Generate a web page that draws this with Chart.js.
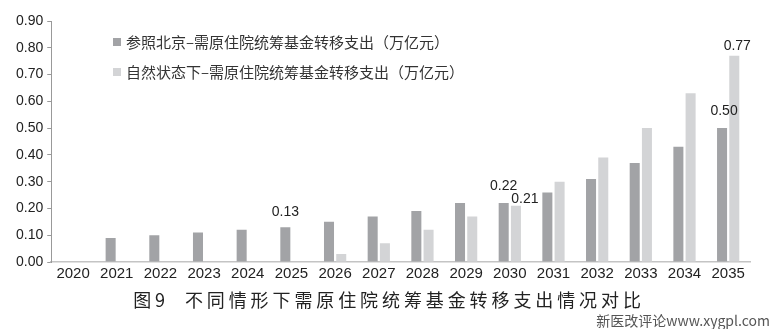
<!DOCTYPE html>
<html>
<head>
<meta charset="utf-8">
<script src="https://cdn.jsdelivr.net/npm/chart.js@4.4.0/dist/chart.umd.min.js"></script>
<style>
    body { margin: 0; background: #fff; }
    #wrap { position: relative; width: 771px; height: 329px; }
    #mark {
        position: absolute; right: 1px; bottom: -1px;
        font: 14px "Noto Sans CJK SC", sans-serif; color: #555;
    }
</style>
</head>
<body>
<div id="wrap">
    <canvas id="fundChart" width="771" height="329"></canvas>
    <div id="mark">新医改评论www.xygpl.com</div>
</div>
<script>
const years = ['2020', '2021', '2022', '2023', '2024', '2025', '2026', '2027',
    '2028', '2029', '2030', '2031', '2032', '2033', '2034', '2035'];
const beijingRef = [0, 0.09, 0.10, 0.11, 0.12, 0.13, 0.15, 0.17,
    0.19, 0.22, 0.22, 0.26, 0.31, 0.37, 0.43, 0.50];
const naturalState = [0, 0, 0, 0, 0, 0, 0.03, 0.07,
    0.12, 0.17, 0.21, 0.30, 0.39, 0.50, 0.63, 0.77];
const yTicks = [0, 0.1, 0.2, 0.3, 0.4, 0.5, 0.6, 0.7, 0.8, 0.9];
const seriesNames = ['参照北京–需原住院统筹基金转移支出（万亿元）', '自然状态下–需原住院统筹基金转移支出（万亿元）'];
const titleText = '图9  不同情形下需原住院统筹基金转移支出情况对比';

// which bars get a value label, and how far to nudge the text
const shownLabels = [
    { ds: 0, i: 5, dx: 0, dy: -15 },
    { ds: 0, i: 10, dx: 0, dy: -17 },
    { ds: 1, i: 10, dx: 9, dy: -7 },
    { ds: 0, i: 15, dx: 2, dy: -17 },
    { ds: 1, i: 15, dx: 3, dy: -10 }
];

const numFont = '"Liberation Sans", Arial, sans-serif';

// legend drawn inside the plot area, stacked
const innerLegend = {
    id: 'innerLegend',
    afterDraw(chart) {
        const ctx = chart.ctx;
        ctx.save();
        ctx.font = '15px "Noto Sans CJK SC", sans-serif';
        ctx.textBaseline = 'middle';
        chart.data.datasets.forEach(function (ds, k) {
            const y = 42 + k * 30;
            ctx.fillStyle = ds.backgroundColor;
            ctx.fillRect(113, y - 4, 8, 8);
            ctx.fillStyle = '#333';
            ctx.fillText(ds.label, 126, y);
        });
        ctx.restore();
    }
};

const valueLabels = {
    id: 'valueLabels',
    afterDatasetsDraw(chart) {
        const ctx = chart.ctx;
        ctx.save();
        ctx.font = '14px ' + numFont;
        ctx.fillStyle = '#222';
        ctx.textAlign = 'center';
        ctx.textBaseline = 'middle';
        shownLabels.forEach(function (l) {
            const bar = chart.getDatasetMeta(l.ds).data[l.i];
            const v = chart.data.datasets[l.ds].data[l.i];
            ctx.fillText(v.toFixed(2), bar.x + l.dx, bar.y + l.dy);
        });
        ctx.restore();
    }
};

// caption under the chart, spaced out like the printed figure
const caption = {
    id: 'caption',
    afterDraw(chart) {
        const ctx = chart.ctx;
        ctx.save();
        ctx.font = '18px "Noto Sans CJK SC", sans-serif';
        ctx.letterSpacing = '3.9px';
        ctx.fillStyle = '#222';
        ctx.textAlign = 'center';
        ctx.textBaseline = 'middle';
        ctx.fillText(titleText, 389, 300);
        ctx.restore();
    }
};

new Chart(document.getElementById('fundChart'), {
    type: 'bar',
    data: {
        labels: years,
        datasets: [
            {
                label: seriesNames[0],
                data: beijingRef,
                backgroundColor: '#a2a3a6',
                categoryPercentage: 0.56,
                barPercentage: 0.82
            },
            {
                label: seriesNames[1],
                data: naturalState,
                backgroundColor: '#d3d4d6',
                categoryPercentage: 0.56,
                barPercentage: 0.82
            }
        ]
    },
    options: {
        responsive: false,
        animation: false,
        layout: {
            padding: { left: 12, right: 21, top: 21, bottom: 43 }
        },
        plugins: {
            legend: { display: false },
            tooltip: { enabled: false }
        },
        scales: {
            x: {
                grid: { display: false, drawTicks: false },
                border: { color: '#c4c4c4', width: 1.5 },
                ticks: {
                    color: '#222',
                    font: { family: numFont, size: 15 },
                    padding: 3,
                    maxRotation: 0,
                    autoSkip: false
                }
            },
            y: {
                min: 0,
                max: 0.9,
                afterBuildTicks(axis) {
                    axis.ticks = yTicks.map(function (v) { return { value: v }; });
                },
                grid: { drawOnChartArea: false, drawTicks: true, tickLength: 4, color: '#999' },
                border: { color: '#999', width: 1 },
                ticks: {
                    color: '#222',
                    font: { family: numFont, size: 14 },
                    padding: 4,
                    callback: function (v) { return Number(v).toFixed(2); }
                }
            }
        }
    },
    plugins: [innerLegend, valueLabels, caption]
});
</script>
</body>
</html>
